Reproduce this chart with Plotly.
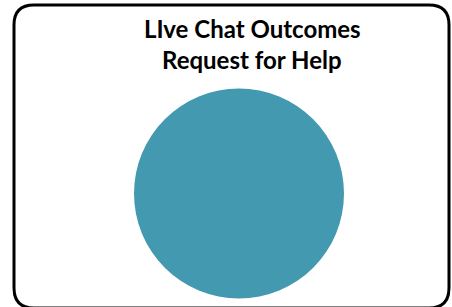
import plotly.graph_objects as go

W, H = 452, 307
labels = ["Request for Help"]
values = [100]
title_lines = ["LIve Chat Outcomes", "Request for Help"]
slice_color = "#4399B0"

def px(x):
    return x / W

def py(y):
    return 1 - y / H

# rounded border (pixel coords -> paper); bottom edge falls just past the frame
x0, x1, y0, y1, r = 14, 449, 5, 308, 20
path = (f"M {px(x0+r)},{py(y0)} L {px(x1-r)},{py(y0)} Q {px(x1)},{py(y0)} {px(x1)},{py(y0+r)} "
        f"L {px(x1)},{py(y1-r)} Q {px(x1)},{py(y1)} {px(x1-r)},{py(y1)} "
        f"L {px(x0+r)},{py(y1)} Q {px(x0)},{py(y1)} {px(x0)},{py(y1-r)} "
        f"L {px(x0)},{py(y0+r)} Q {px(x0)},{py(y0)} {px(x0+r)},{py(y0)} Z")

fig = go.Figure(go.Pie(
    labels=labels, values=values, sort=False,
    marker=dict(colors=[slice_color], line=dict(width=0)),
    textinfo="none", hoverinfo="label+value", showlegend=False,
    domain=dict(x=[px(134), px(344)], y=[py(299), py(88)]),
))

fig.update_layout(
    width=W, height=H,
    margin=dict(l=0, r=0, t=0, b=0),
    paper_bgcolor="white", plot_bgcolor="white",
    shapes=[dict(type="path", path=path, xref="paper", yref="paper",
                 line=dict(color="black", width=3))],
    annotations=[
        dict(text=f"<b>{title_lines[0]}</b>", x=px(252), y=py(28), xref="paper", yref="paper",
             showarrow=False, xanchor="center", yanchor="middle",
             font=dict(family="Lato, Open Sans, sans-serif", size=24, color="black")),
        dict(text=f"<b>{title_lines[1]}</b>", x=px(252), y=py(60), xref="paper", yref="paper",
             showarrow=False, xanchor="center", yanchor="middle",
             font=dict(family="Lato, Open Sans, sans-serif", size=24, color="black")),
    ],
)

fig.write_html("out.html", config={"displayModeBar": False},
               post_script="document.body.style.margin='0';")
